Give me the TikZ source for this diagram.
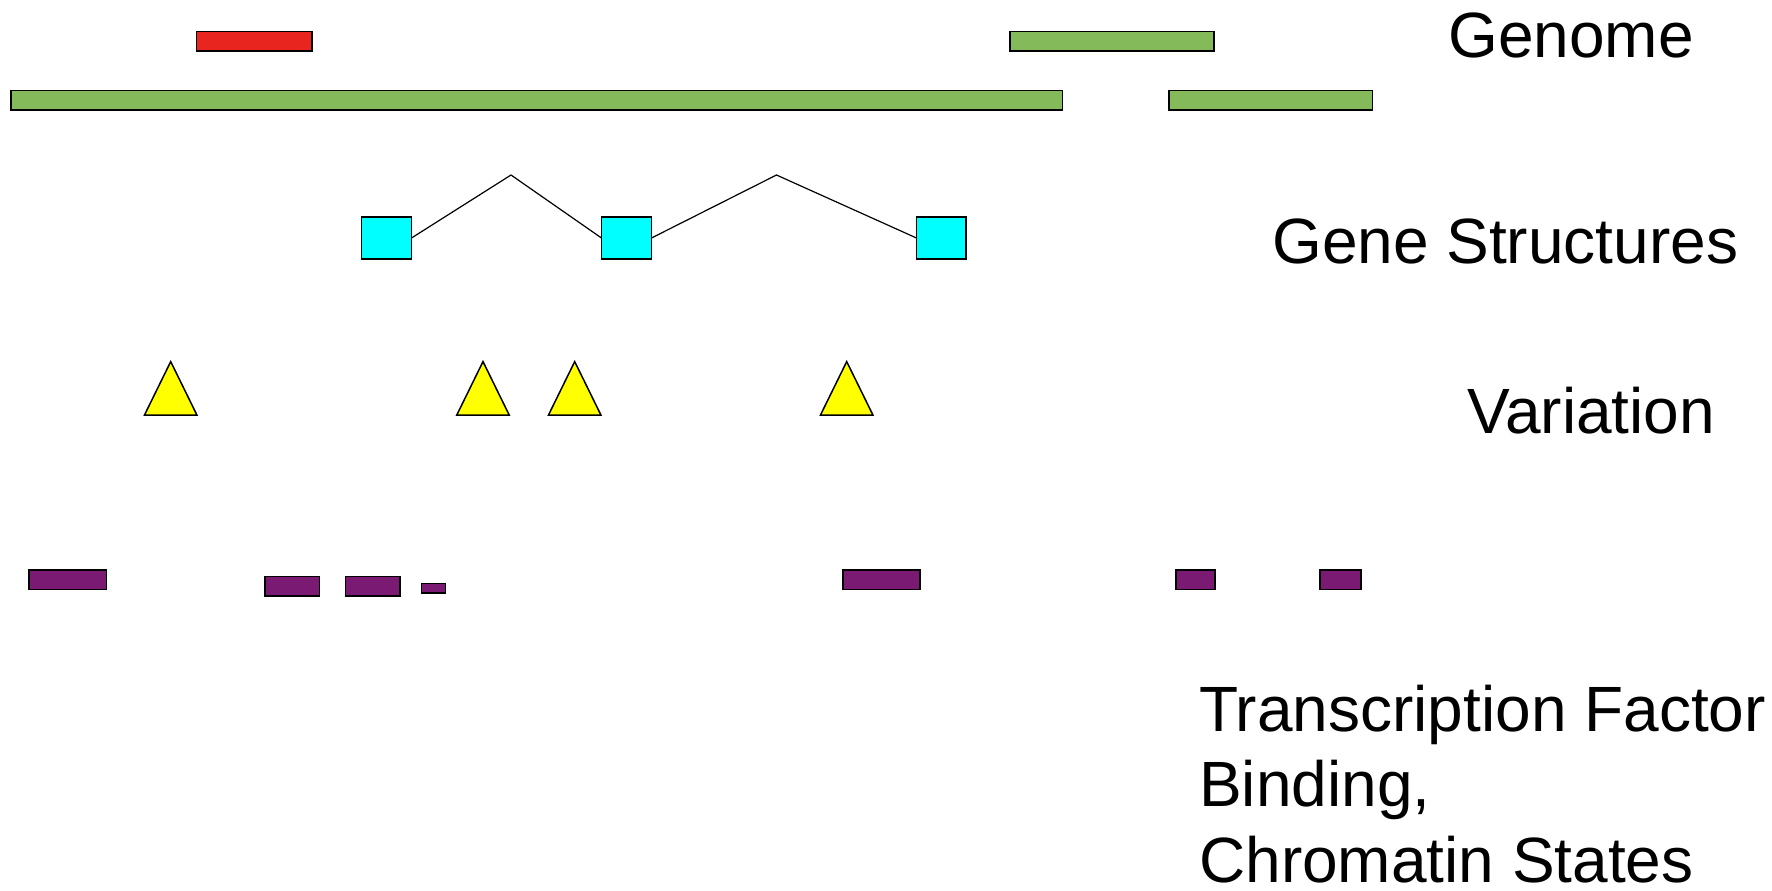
\documentclass[tikz,border=0pt]{standalone}
\usepackage{fontspec}
\setmainfont{Liberation Sans}
\definecolor{gred}{HTML}{E92520}
\definecolor{ggreen}{HTML}{84BA5A}
\definecolor{gcyan}{HTML}{00FFFF}
\definecolor{gyellow}{HTML}{FFFF00}
\definecolor{gpurple}{HTML}{7B1A73}
\begin{document}
\begin{tikzpicture}[x=1pt,y=-1pt,
  bar/.style={draw=black, line width=1.5pt, inner sep=0pt, outer sep=0pt, anchor=north west},
  genome/.style={bar, fill=ggreen},
  redbar/.style={bar, fill=gred},
  exon/.style={bar, fill=gcyan},
  tf/.style={bar, fill=gpurple},
  snp/.style={draw=black, line width=1.5pt, fill=gyellow, line join=miter},
  intron/.style={draw=black, line width=1.2pt},
  lbl/.style={anchor=base west, inner sep=0pt, font=\fontsize{64}{75.2}\selectfont, align=left}
]
\useasboundingbox (0,0) rectangle (1772,891);

% Genome
\node[redbar, minimum width=115.4pt, minimum height=19.4pt] (r1) at (196.6,31.6) {};
\node[genome, minimum width=204pt, minimum height=19.4pt] (g1) at (1010,31.6) {};
\node[genome, minimum width=1051.5pt, minimum height=19.5pt] (g2) at (11,90.5) {};
\node[genome, minimum width=203.5pt, minimum height=19.5pt] (g3) at (1169,90.5) {};

% Gene structures
\node[exon, minimum width=50pt, minimum height=42pt] (e1) at (361.5,217) {};
\node[exon, minimum width=50pt, minimum height=42pt] (e2) at (601.5,217) {};
\node[exon, minimum width=49.5pt, minimum height=42pt] (e3) at (916.5,217) {};
\coordinate (p1) at (511,175);
\coordinate (p2) at (776.5,175);
\draw[intron] (e1.east) -- (p1) -- (e2.west);
\draw[intron] (e2.east) -- (p2) -- (e3.west);

% Variation
\foreach \x/\n in {170.7/t1, 483/t2, 574.7/t3, 846.7/t4} {
  \draw[snp] (\x-26.2,415) coordinate (\n a) -- (\x,361.6) coordinate (\n) -- (\x+26.2,415) -- cycle;
}

% TF binding / chromatin
\node[tf, minimum width=77.5pt, minimum height=19.7pt] (b1) at (29,570) {};
\node[tf, minimum width=54.5pt, minimum height=19.3pt] (b2) at (265,576.7) {};
\node[tf, minimum width=54.7pt, minimum height=19.3pt] (b3) at (345.3,576.7) {};
\node[tf, minimum width=23.9pt, minimum height=9.7pt] (b4) at (421.6,583.3) {};
\node[tf, minimum width=77pt, minimum height=19.5pt] (b5) at (843,570) {};
\node[tf, minimum width=39pt, minimum height=19.5pt] (b6) at (1176,570) {};
\node[tf, minimum width=41pt, minimum height=19.5pt] (b7) at (1320,570) {};

% Labels
\node[lbl] (lg) at (1448,58) {Genome};
\node[lbl] (ls) at (1272,263) {Gene Structures};
\node[lbl] (lv) at (1467,433) {Variation};
\node[lbl, text depth=0pt] (lt) at (1199,882) {Transcription Factor\\Binding,\\Chromatin States};
\end{tikzpicture}
\end{document}
